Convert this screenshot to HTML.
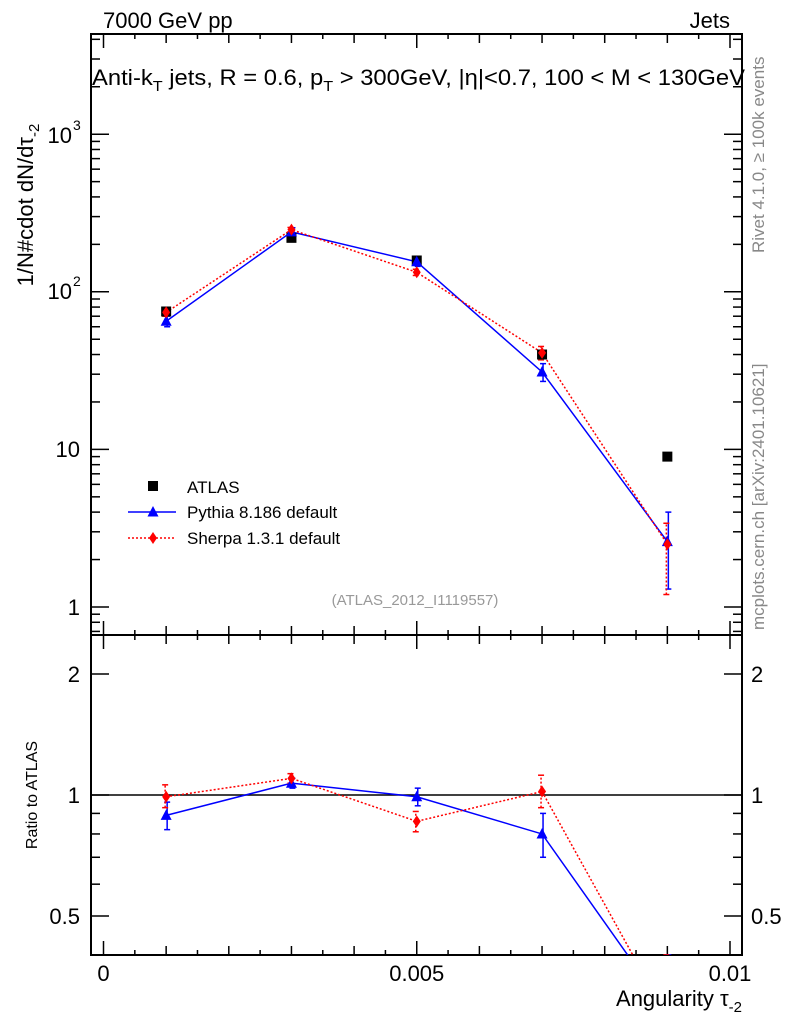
<!DOCTYPE html>
<html><head><meta charset="utf-8"><style>
html,body{margin:0;background:#fff;overflow:hidden;width:786px;height:1024px}
svg{display:block;font-family:"Liberation Sans",sans-serif}
</style></head><body>
<svg id="c" width="786" height="1024"></svg>
<script>
const xs=[0.001,0.003,0.005,0.007,0.009];
const atlas=[75,220,158,40,9];
const pythia=[65,240,155,31,2.6];
const pythiaErrLo=[60,225,145,27,1.3];
const pythiaErrHi=[70,255,165,35,4.0];
const sherpa=[74,248,133,41,2.5];
const sherpaErrLo=[70,240,127,37,1.2];
const sherpaErrHi=[78,256,139,45,3.4];
const pyRatio=[0.89,1.07,0.99,0.8,0.29];
const pyRatioLo=[0.82,1.04,0.94,0.7,0.2];
const pyRatioHi=[0.96,1.1,1.04,0.9,0.4];
const shRatio=[0.99,1.1,0.86,1.02,0.28];
const shRatioLo=[0.93,1.07,0.81,0.93,0.2];
const shRatioHi=[1.06,1.13,0.91,1.12,0.4];
const xTickLabels=["0","0.005","0.01"];

const L=91,R=742,T=34,M=635,B=955;
const X=v=>103.5+v*62650;
const Y=v=>607-157.6*Math.log10(v);
const YR=v=>795-402*Math.log10(v);
const svg=document.getElementById('c');
const NS='http://www.w3.org/2000/svg';
function el(tag,attrs,parent,name){const e=document.createElementNS(NS,tag);for(const k in attrs)e.setAttribute(k,attrs[k]);


(parent||svg).appendChild(e);return e;}
function txt(s,attrs,name){const t=el('text',attrs,svg,name);t.textContent=s;return t;}

const defs=el('defs',{},svg,'defs');
const c1=el('clipPath',{id:'cm'},defs,'clip-main');el('rect',{x:L,y:T,width:R-L,height:M-T},c1,'clip-rect');
const c2=el('clipPath',{id:'cr'},defs,'clip-ratio');el('rect',{x:L,y:M,width:R-L,height:B-M},c2,'clip-rect');

el('rect',{x:L,y:T,width:R-L,height:M-T,fill:'none',stroke:'#000','stroke-width':2},svg,'main-frame');
el('rect',{x:L,y:M,width:R-L,height:B-M,fill:'none',stroke:'#000','stroke-width':2},svg,'ratio-frame');

for(let i=0;i<=20;i++){const v=i*0.0005,x=X(v);if(x>R)break;const len=i%2===0?(i%10===0?14:9):5;
 [[M,-1],[T,1],[B,-1],[M,1]].forEach(([y,d])=>el('line',{x1:x,x2:x,y1:y,y2:y+d*len,stroke:'#000','stroke-width':1.5},svg,'x-tick'));}
xTickLabels.forEach((s,i)=>txt(s,{x:X(i*0.005),y:981,'font-size':22,'text-anchor':'middle'},'x-tick-label'));

for(let d=-1;d<4;d++)for(let m=1;m<10;m++){const v=m*Math.pow(10,d),y=Y(v);if(y<T||y>M)continue;const len=m===1?18:9;
 el('line',{x1:L,x2:L+len,y1:y,y2:y,stroke:'#000','stroke-width':1.5},svg,'y-tick');
 el('line',{x1:R,x2:R-len,y1:y,y2:y,stroke:'#000','stroke-width':1.5},svg,'y-tick');}
txt('1',{x:80,y:615,'font-size':22,'text-anchor':'end'},'y-tick-label');
txt('10',{x:80,y:457,'font-size':22,'text-anchor':'end'},'y-tick-label');
txt('10',{x:72,y:299,'font-size':22,'text-anchor':'end'},'y-tick-label');
txt('2',{x:73,y:286,'font-size':14},'y-tick-exp');
txt('10',{x:72,y:143,'font-size':22,'text-anchor':'end'},'y-tick-label');
txt('3',{x:73,y:130,'font-size':14},'y-tick-exp');

for(let d=-1;d<1;d++)for(let m=1;m<10;m++){const v=m*Math.pow(10,d),y=YR(v);if(y<M||y>B)continue;const len=(v===1||v===2||v===0.5)?18:9;
 el('line',{x1:L,x2:L+len,y1:y,y2:y,stroke:'#000','stroke-width':1.5},svg,'ratio-tick');
 el('line',{x1:R,x2:R-len,y1:y,y2:y,stroke:'#000','stroke-width':1.5},svg,'ratio-tick');}
[[2,'2'],[1,'1'],[0.5,'0.5']].forEach(([v,s])=>{txt(s,{x:80,y:YR(v)+8,'font-size':22,'text-anchor':'end'},'ratio-tick-label');txt(s,{x:751,y:YR(v)+8,'font-size':22},'ratio-tick-label-right');});
el('line',{x1:L,x2:R,y1:YR(1),y2:YR(1),stroke:'#000','stroke-width':1.5},svg,'ratio-unity-line');

const gm=el('g',{'clip-path':'url(#cm)'},svg,'main-plot-area');
function line(vals,fy,color,dash,g,name){el('polyline',{points:xs.map((x,i)=>X(x)+','+fy(vals[i])).join(' '),fill:'none',stroke:color,'stroke-width':1.5,'stroke-dasharray':dash||''},g,name);}
function errs(lo,hi,fy,color,dash,g,name,dx){xs.forEach((x,i)=>{el('line',{x1:X(x)+dx,x2:X(x)+dx,y1:fy(lo[i]),y2:fy(hi[i]),stroke:color,'stroke-width':1.5,'stroke-dasharray':dash||''},g,name);
 [lo[i],hi[i]].forEach(v=>el('line',{x1:X(x)+dx-3,x2:X(x)+dx+3,y1:fy(v),y2:fy(v),stroke:color,'stroke-width':1.5},g,name+'-cap'));});}
function tri(x,y,g,name){el('polygon',{points:`${x},${y-6} ${x-5.5},${y+4.5} ${x+5.5},${y+4.5}`,fill:'#0000ff'},g,name);}
function dia(x,y,g,name){el('polygon',{points:`${x},${y-6} ${x-4},${y} ${x},${y+6} ${x+4},${y}`,fill:'#ff0000'},g,name);}

line(pythia,Y,'#0000ff','',gm,'pythia-line');
line(sherpa,Y,'#ff0000','2,2',gm,'sherpa-line');
errs(pythiaErrLo,pythiaErrHi,Y,'#0000ff','',gm,'pythia-error',1);
errs(sherpaErrLo,sherpaErrHi,Y,'#ff0000','2,2',gm,'sherpa-error',-1);
xs.forEach((x,i)=>el('rect',{x:X(x)-5,y:Y(atlas[i])-5,width:10,height:10,fill:'#000'},gm,'atlas-point'));
xs.forEach((x,i)=>tri(X(x),Y(pythia[i]),gm,'pythia-point'));
xs.forEach((x,i)=>dia(X(x),Y(sherpa[i]),gm,'sherpa-point'));

const gr=el('g',{'clip-path':'url(#cr)'},svg,'ratio-plot-area');
line(pyRatio,YR,'#0000ff','',gr,'pythia-ratio-line');
line(shRatio,YR,'#ff0000','2,2',gr,'sherpa-ratio-line');
errs(pyRatioLo,pyRatioHi,YR,'#0000ff','',gr,'pythia-ratio-error',1);
errs(shRatioLo,shRatioHi,YR,'#ff0000','2,2',gr,'sherpa-ratio-error',-1);
xs.forEach((x,i)=>tri(X(x),YR(pyRatio[i]),gr,'pythia-ratio-point'));
xs.forEach((x,i)=>dia(X(x),YR(shRatio[i]),gr,'sherpa-ratio-point'));

el('rect',{x:148,y:481,width:10,height:10,fill:'#000'},svg,'legend-atlas-marker');
txt('ATLAS',{x:187,y:493,'font-size':17},'legend-atlas-label');
el('line',{x1:128,x2:176,y1:512,y2:512,stroke:'#0000ff','stroke-width':1.5},svg,'legend-pythia-line');
tri(153,512,svg,'legend-pythia-marker');
txt('Pythia 8.186 default',{x:187,y:518,'font-size':17},'legend-pythia-label');
el('line',{x1:128,x2:176,y1:538,y2:538,stroke:'#ff0000','stroke-width':1.5,'stroke-dasharray':'2,2'},svg,'legend-sherpa-line');
dia(153,538,svg,'legend-sherpa-marker');
txt('Sherpa 1.3.1 default',{x:187,y:544,'font-size':17},'legend-sherpa-label');

txt('7000 GeV pp',{x:103,y:28,'font-size':22},'header-left');
txt('Jets',{x:730,y:28,'font-size':22,'text-anchor':'end'},'header-right');
const tt=txt('',{x:92,y:85,'font-size':22,textLength:653,lengthAdjust:'spacingAndGlyphs'},'plot-title');
tt.innerHTML='Anti-k<tspan dy="6" font-size="15">T</tspan><tspan dy="-6"> jets, R = 0.6, p</tspan><tspan dy="6" font-size="15">T</tspan><tspan dy="-6"> &gt; 300GeV, |η|&lt;0.7, 100 &lt; M &lt; 130GeV</tspan>';
txt('(ATLAS_2012_I1119557)',{x:415,y:605,'font-size':15,fill:'#999','text-anchor':'middle'},'analysis-id');
const yl=txt('',{x:0,y:0,'font-size':22,transform:'translate(33,205) rotate(-90)','text-anchor':'middle'},'y-axis-title');
yl.innerHTML='1/N#cdot dN/dτ<tspan dy="6" font-size="15">-2</tspan>';
txt('Ratio to ATLAS',{x:0,y:0,'font-size':16,transform:'translate(37,795) rotate(-90)','text-anchor':'middle'},'ratio-y-axis-title');
const xl=txt('',{x:742,y:1006,'font-size':22,'text-anchor':'end'},'x-axis-title');
xl.innerHTML='Angularity τ<tspan dy="6" font-size="15">-2</tspan>';
txt('Rivet 4.1.0, ≥ 100k events',{x:0,y:0,'font-size':17,fill:'#888',transform:'translate(764,253) rotate(-90)'},'rivet-note');
txt('mcplots.cern.ch [arXiv:2401.10621]',{x:0,y:0,'font-size':17,fill:'#888',transform:'translate(764,630) rotate(-90)'},'mcplots-note');
</script>
</body></html>
